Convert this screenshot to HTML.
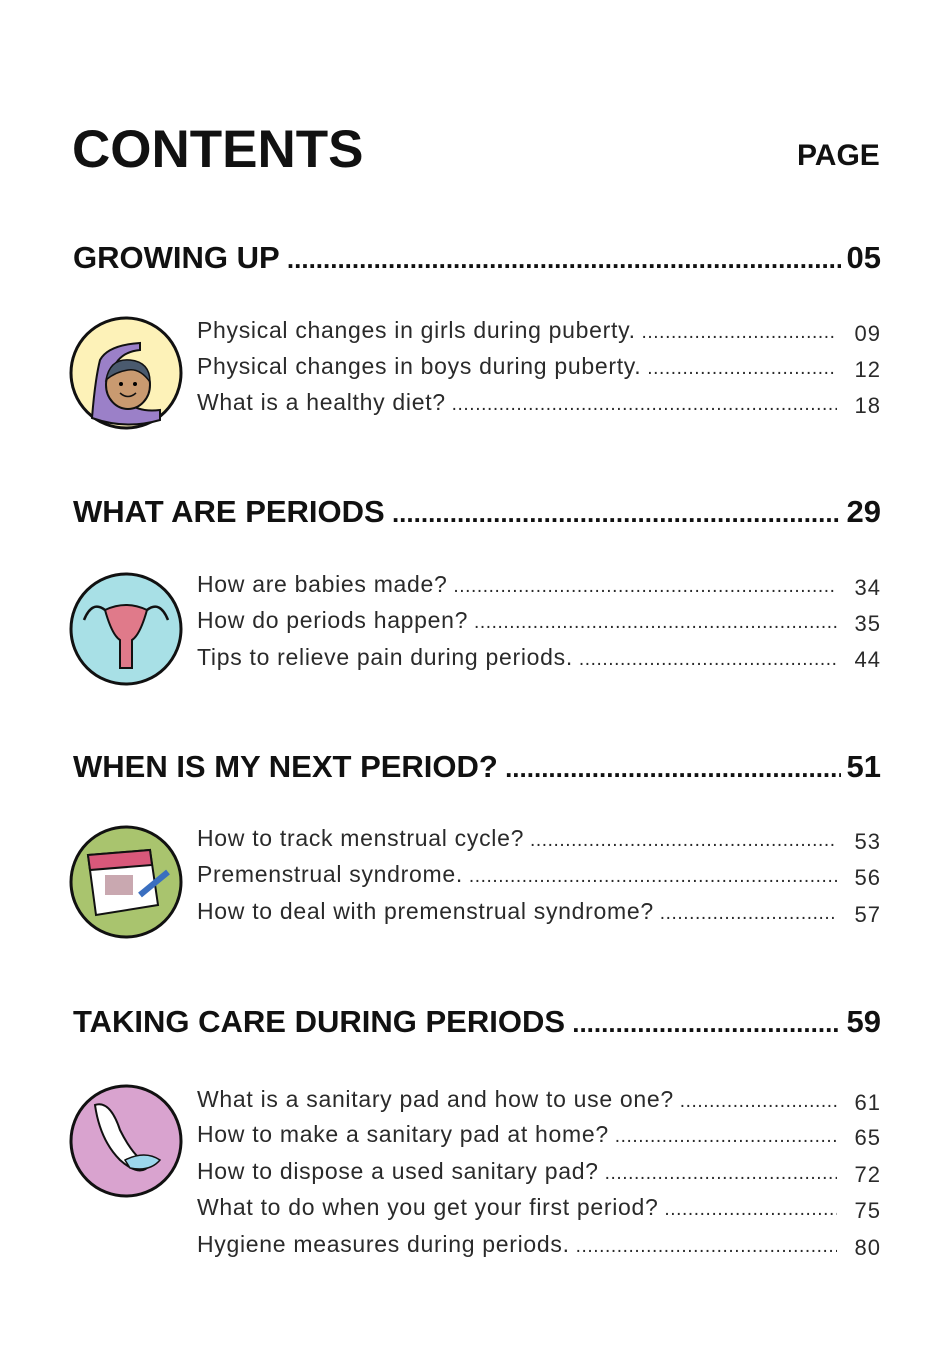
<!DOCTYPE html>
<html><head><meta charset="utf-8"><style>
body{margin:0;width:943px;height:1371px;background:#fff;position:relative;font-family:"Liberation Sans",sans-serif;color:#111;overflow:hidden}
.a{position:absolute;white-space:nowrap}
.h{left:73px;width:808px;font-weight:bold;font-size:31px;height:36px;line-height:36px;display:flex}
.h .t{overflow:hidden;flex:1;margin-right:6px}
.h .t::after{content:" ......................................................................................................................................";font-size:26px}
.i{left:197px;width:640px;font-size:23px;height:28px;line-height:28px;overflow:hidden;color:#2a2a2a;letter-spacing:0.7px}
.i::after{content:" ...................................................................................................................................................................";letter-spacing:0.6px;font-size:19px}
.n{left:840px;width:41px;text-align:right;font-size:22px;height:28px;line-height:28px;color:#2a2a2a;letter-spacing:1px}
</style></head><body>
<div class="a" style="left:72px;top:120px;font-size:53px;font-weight:bold;line-height:60px">CONTENTS</div>
<div class="a" style="left:797px;top:138px;font-size:30px;font-weight:bold;line-height:36px">PAGE</div>

<div class="a h" style="top:240px"><span class="t">GROWING UP</span><span>05</span></div>
<div class="a i" style="top:316px">Physical changes in girls during puberty.</div><div class="a n" style="top:320px">09</div>
<div class="a i" style="top:352px">Physical changes in boys during puberty.</div><div class="a n" style="top:356px">12</div>
<div class="a i" style="top:388px">What is a healthy diet?</div><div class="a n" style="top:392px">18</div>

<div class="a h" style="top:494px"><span class="t">WHAT ARE PERIODS</span><span>29</span></div>
<div class="a i" style="top:570px">How are babies made?</div><div class="a n" style="top:574px">34</div>
<div class="a i" style="top:606px">How do periods happen?</div><div class="a n" style="top:610px">35</div>
<div class="a i" style="top:643px">Tips to relieve pain during periods.</div><div class="a n" style="top:646px">44</div>

<div class="a h" style="top:749px"><span class="t">WHEN IS MY NEXT PERIOD?</span><span>51</span></div>
<div class="a i" style="top:824px">How to track menstrual cycle?</div><div class="a n" style="top:828px">53</div>
<div class="a i" style="top:860px">Premenstrual syndrome.</div><div class="a n" style="top:864px">56</div>
<div class="a i" style="top:897px">How to deal with premenstrual syndrome?</div><div class="a n" style="top:901px">57</div>

<div class="a h" style="top:1004px"><span class="t">TAKING CARE DURING PERIODS</span><span>59</span></div>
<div class="a i" style="top:1085px">What is a sanitary pad and how to use one?</div><div class="a n" style="top:1089px">61</div>
<div class="a i" style="top:1120px">How to make a sanitary pad at home?</div><div class="a n" style="top:1124px">65</div>
<div class="a i" style="top:1157px">How to dispose a used sanitary pad?</div><div class="a n" style="top:1161px">72</div>
<div class="a i" style="top:1193px">What to do when you get your first period?</div><div class="a n" style="top:1197px">75</div>
<div class="a i" style="top:1230px">Hygiene measures during periods.</div><div class="a n" style="top:1234px">80</div>

<svg class="a" style="left:0;top:0" width="943" height="1371">
<g stroke="#111" stroke-width="3">
<circle cx="126" cy="373" r="55" fill="#fdf2b8"/>
<circle cx="126" cy="629" r="55" fill="#a8e0e6"/>
<circle cx="126" cy="882" r="55" fill="#a9c46e"/>
<circle cx="126" cy="1141" r="55" fill="#d9a3cf"/>
</g>
<path d="M92 418 Q95 380 100 360 Q108 345 140 343 L140 350 Q118 352 112 372 Q120 415 160 410 L160 420 Q126 430 92 418Z" fill="#9b80c8" stroke="#111" stroke-width="2"/>
<ellipse cx="128" cy="385" rx="22" ry="24" fill="#c99a70" stroke="#111" stroke-width="2"/>
<path d="M106 380 Q110 358 130 360 Q150 362 150 382 Q140 368 128 370 Q115 372 106 380Z" fill="#4a5a6e" stroke="#111" stroke-width="1.5"/>
<circle cx="121" cy="384" r="2"/><circle cx="135" cy="384" r="2"/>
<path d="M120 393 Q128 400 136 393" fill="none" stroke="#111" stroke-width="1.5"/>
<path d="M105 610 Q126 600 147 610 Q140 635 132 640 L132 668 L120 668 L120 640 Q112 635 105 610Z" fill="#e07a8a" stroke="#111" stroke-width="2"/>
<path d="M105 610 Q92 600 84 620 M147 610 Q160 600 168 620" fill="none" stroke="#111" stroke-width="2.5"/>
<path d="M88 855 L150 850 L158 905 L96 915Z" fill="#fff" stroke="#111" stroke-width="2"/>
<path d="M88 855 L150 850 L152 865 L90 870Z" fill="#d9587a" stroke="#111" stroke-width="2"/>
<rect x="105" y="875" width="28" height="20" fill="#c9a8b0"/>
<path d="M140 895 L168 872" stroke="#3a6fc0" stroke-width="6"/>
<path d="M95 1105 Q110 1100 120 1130 Q135 1160 150 1165 Q140 1178 120 1160 Q100 1140 95 1105Z" fill="#fff" stroke="#111" stroke-width="2"/>
<path d="M125 1160 Q145 1150 160 1160 Q150 1172 130 1168Z" fill="#9cd7ec" stroke="#111" stroke-width="1.5"/>
</svg>
</body></html>
